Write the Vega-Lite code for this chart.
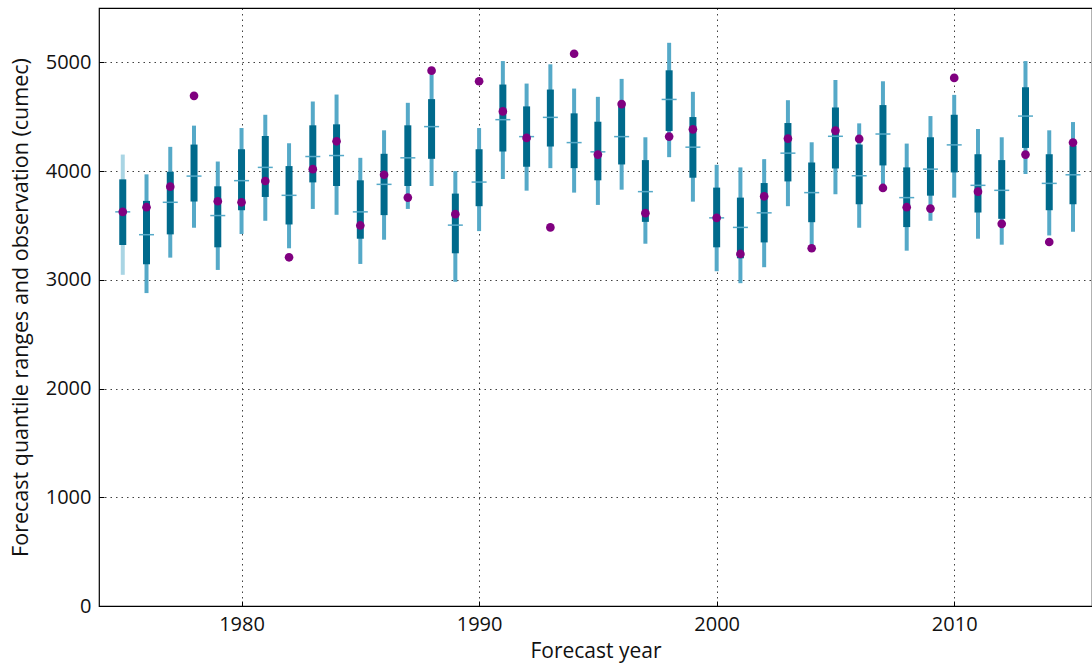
{
  "$schema": "https://vega.github.io/schema/vega-lite/v6.json",
  "width": 993,
  "height": 598,
  "autosize": "none",
  "padding": {"left": 99, "top": 8, "right": 0, "bottom": 65},
  "background": "white",
  "config": {
    "view": {"stroke": "#000", "strokeWidth": 1.2},
    "axis": {
      "labelFont": "Open Sans",
      "labelFontSize": 20,
      "labelColor": "#111",
      "titleFont": "Open Sans",
      "titleFontSize": 21,
      "titleFontWeight": "normal",
      "titleColor": "#111",
      "domain": false,
      "grid": true,
      "gridColor": "#000",
      "gridOpacity": 0.75,
      "gridDash": [1.5, 4],
      "gridWidth": 1,
      "tickColor": "#000",
      "tickSize": -5,
      "tickWidth": 1,
      "labelPadding": 13,
      "zindex": 1
    }
  },
  "data": {
    "values": [
      {"year": 1975, "olo": 3046, "ohi": 4152, "ilo": 3320, "ihi": 3924, "med": 3625, "obs": 3625},
      {"year": 1976, "olo": 2878, "ohi": 3970, "ilo": 3143, "ihi": 3726, "med": 3415, "obs": 3668},
      {"year": 1977, "olo": 3204, "ohi": 4223, "ilo": 3418, "ihi": 3994, "med": 3713, "obs": 3857},
      {"year": 1978, "olo": 3479, "ohi": 4418, "ilo": 3720, "ihi": 4244, "med": 3954, "obs": 4692},
      {"year": 1979, "olo": 3091, "ohi": 4088, "ilo": 3299, "ihi": 3860, "med": 3591, "obs": 3723},
      {"year": 1980, "olo": 3421, "ohi": 4396, "ilo": 3640, "ihi": 4201, "med": 3912, "obs": 3713},
      {"year": 1981, "olo": 3543, "ohi": 4518, "ilo": 3762, "ihi": 4323, "med": 4034, "obs": 3909},
      {"year": 1982, "olo": 3290, "ohi": 4256, "ilo": 3509, "ihi": 4046, "med": 3777, "obs": 3207},
      {"year": 1983, "olo": 3652, "ohi": 4640, "ilo": 3896, "ihi": 4421, "med": 4134, "obs": 4018},
      {"year": 1984, "olo": 3598, "ohi": 4704, "ilo": 3863, "ihi": 4430, "med": 4143, "obs": 4274},
      {"year": 1985, "olo": 3146, "ohi": 4122, "ilo": 3378, "ihi": 3915, "med": 3625, "obs": 3500},
      {"year": 1986, "olo": 3369, "ohi": 4375, "ilo": 3595, "ihi": 4159, "med": 3878, "obs": 3966},
      {"year": 1987, "olo": 3652, "ohi": 4628, "ilo": 3863, "ihi": 4421, "med": 4122, "obs": 3756},
      {"year": 1988, "olo": 3863, "ohi": 4890, "ilo": 4113, "ihi": 4662, "med": 4409, "obs": 4924},
      {"year": 1989, "olo": 2982, "ohi": 4000, "ilo": 3244, "ihi": 3793, "med": 3503, "obs": 3604},
      {"year": 1990, "olo": 3448, "ohi": 4396, "ilo": 3677, "ihi": 4201, "med": 3899, "obs": 4826},
      {"year": 1991, "olo": 3927, "ohi": 5012, "ilo": 4180, "ihi": 4796, "med": 4473, "obs": 4549},
      {"year": 1992, "olo": 3820, "ohi": 4805, "ilo": 4040, "ihi": 4595, "med": 4317, "obs": 4305},
      {"year": 1993, "olo": 4027, "ohi": 4982, "ilo": 4226, "ihi": 4750, "med": 4494, "obs": 3482},
      {"year": 1994, "olo": 3802, "ohi": 4759, "ilo": 4027, "ihi": 4531, "med": 4262, "obs": 5079},
      {"year": 1995, "olo": 3689, "ohi": 4683, "ilo": 3915, "ihi": 4454, "med": 4177, "obs": 4152},
      {"year": 1996, "olo": 3829, "ohi": 4848, "ilo": 4061, "ihi": 4619, "med": 4317, "obs": 4616},
      {"year": 1997, "olo": 3332, "ohi": 4311, "ilo": 3533, "ihi": 4101, "med": 3811, "obs": 3613},
      {"year": 1998, "olo": 4128, "ohi": 5180, "ilo": 4369, "ihi": 4927, "med": 4659, "obs": 4317},
      {"year": 1999, "olo": 3719, "ohi": 4729, "ilo": 3939, "ihi": 4497, "med": 4220, "obs": 4384},
      {"year": 2000, "olo": 3079, "ohi": 4058, "ilo": 3299, "ihi": 3848, "med": 3570, "obs": 3570},
      {"year": 2001, "olo": 2969, "ohi": 4034, "ilo": 3198, "ihi": 3756, "med": 3482, "obs": 3238},
      {"year": 2002, "olo": 3116, "ohi": 4110, "ilo": 3344, "ihi": 3890, "med": 3616, "obs": 3768},
      {"year": 2003, "olo": 3677, "ohi": 4652, "ilo": 3905, "ihi": 4442, "med": 4165, "obs": 4299},
      {"year": 2004, "olo": 3310, "ohi": 4265, "ilo": 3530, "ihi": 4079, "med": 3802, "obs": 3290},
      {"year": 2005, "olo": 3787, "ohi": 4838, "ilo": 4024, "ihi": 4585, "med": 4320, "obs": 4372},
      {"year": 2006, "olo": 3479, "ohi": 4439, "ilo": 3695, "ihi": 4244, "med": 3957, "obs": 4296},
      {"year": 2007, "olo": 3845, "ohi": 4826, "ilo": 4052, "ihi": 4607, "med": 4341, "obs": 3845},
      {"year": 2008, "olo": 3268, "ohi": 4253, "ilo": 3485, "ihi": 4034, "med": 3756, "obs": 3668},
      {"year": 2009, "olo": 3543, "ohi": 4506, "ilo": 3774, "ihi": 4311, "med": 4018, "obs": 3655},
      {"year": 2010, "olo": 3756, "ohi": 4701, "ilo": 3988, "ihi": 4518, "med": 4241, "obs": 4857},
      {"year": 2011, "olo": 3378, "ohi": 4387, "ilo": 3619, "ihi": 4155, "med": 3869, "obs": 3811},
      {"year": 2012, "olo": 3323, "ohi": 4311, "ilo": 3561, "ihi": 4101, "med": 3823, "obs": 3515},
      {"year": 2013, "olo": 3973, "ohi": 5012, "ilo": 4213, "ihi": 4771, "med": 4506, "obs": 4152},
      {"year": 2014, "olo": 3408, "ohi": 4375, "ilo": 3640, "ihi": 4155, "med": 3887, "obs": 3348},
      {"year": 2015, "olo": 3442, "ohi": 4451, "ilo": 3695, "ihi": 4235, "med": 3966, "obs": 4262}
    ]
  },
  "layer": [
    {
      "mark": {"type": "rule", "strokeWidth": 4},
      "encoding": {
        "x": {
          "field": "year",
          "type": "quantitative",
          "scale": {"domain": [1974, 2015.8], "nice": false, "zero": false},
          "axis": {"title": "Forecast year", "values": [1980, 1990, 2000, 2010], "format": "d", "titlePadding": 6}
        },
        "y": {
          "field": "olo",
          "type": "quantitative",
          "scale": {"domain": [0, 5500], "nice": false},
          "axis": {"title": "Forecast quantile ranges and observation (cumec)", "titleFontSize": 21.5, "values": [0, 1000, 2000, 3000, 4000, 5000], "format": "d", "titlePadding": 13}
        },
        "y2": {"field": "ohi"},
        "color": {"condition": {"test": "datum.year == 1975", "value": "#a9d5e4"}, "value": "#55a9c8"}
      }
    },
    {
      "mark": {"type": "rule", "strokeWidth": 7, "color": "#006a8c"},
      "encoding": {
        "x": {"field": "year", "type": "quantitative"},
        "y": {"field": "ilo", "type": "quantitative"},
        "y2": {"field": "ihi"}
      }
    },
    {
      "mark": {"type": "tick", "orient": "horizontal", "size": 15, "thickness": 1.5, "color": "#55a9c8", "opacity": 1},
      "encoding": {
        "x": {"field": "year", "type": "quantitative"},
        "y": {"field": "med", "type": "quantitative"}
      }
    },
    {
      "mark": {"type": "circle", "size": 75, "color": "#800080", "opacity": 1},
      "encoding": {
        "x": {"field": "year", "type": "quantitative"},
        "y": {"field": "obs", "type": "quantitative"}
      }
    }
  ]
}
